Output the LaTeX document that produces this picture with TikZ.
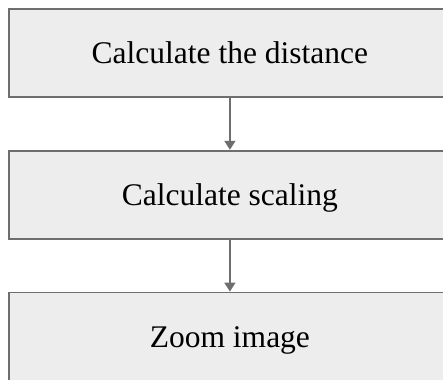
\documentclass[tikz,border=0pt]{standalone}
\usepackage{fontspec}
\setmainfont{Liberation Serif}
\usetikzlibrary{arrows.meta,positioning}
\definecolor{boxfill}{HTML}{EDEDED}
\definecolor{boxline}{HTML}{6E6E6E}
\tikzset{node distance=51.5pt,
	stepbox/.style={
		draw=boxline,
		fill=boxfill,
		line width=1.8pt,
		minimum width=442pt,
		minimum height=88.5pt,
		text height=21pt,
		text depth=0pt,
		font=\fontsize{31.5}{34}\selectfont
	},
	flow/.style={
		draw=boxline,
		line width=1.6pt,
		-{Triangle[length=9pt,width=11pt]}
	}
}

\begin{document}
\begin{tikzpicture}[x=1pt,y=1pt]
	\useasboundingbox (0,0) rectangle (443,-379);
	\clip (0,0) rectangle (443,-379);
	\node[stepbox, anchor=north west] (dist) at (8,-8) {Calculate the distance};
	\node[stepbox, below=of dist] (scale) {Calculate scaling};
	\node[stepbox, below=of scale] (zoom) {Zoom image};

	\draw[flow] (dist) -- (scale);
	\draw[flow] (scale) -- (zoom);
\end{tikzpicture}
\end{document}
